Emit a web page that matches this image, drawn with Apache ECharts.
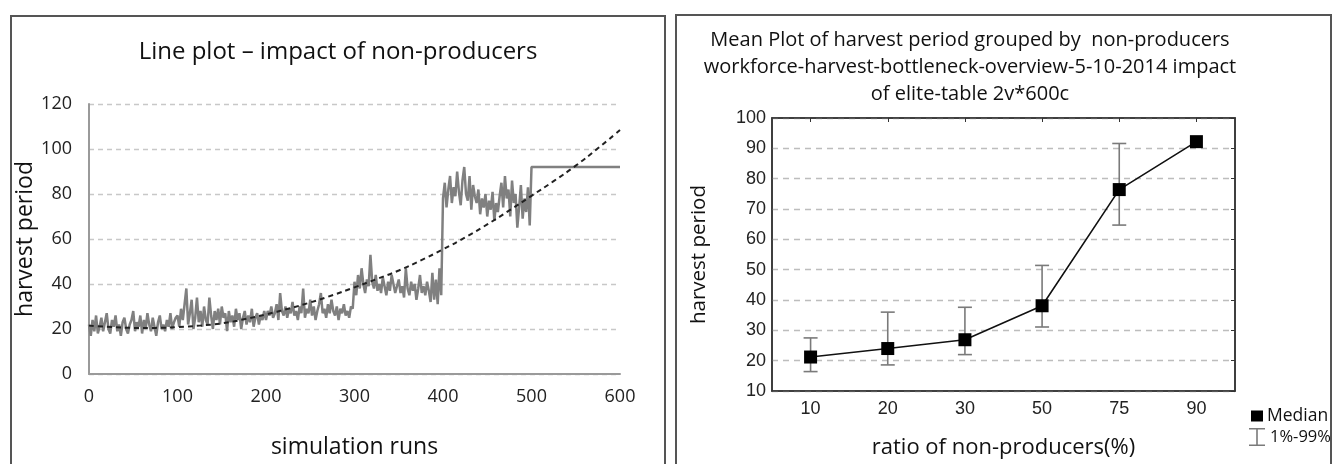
<!DOCTYPE html>
<html>
<head>
<meta charset="utf-8">
<title>harvest period – impact of non-producers</title>
<script src="https://cdn.jsdelivr.net/npm/echarts@6/dist/echarts.min.js"></script>
<style>
  html, body { margin: 0; padding: 0; background: #fff; }
  #chart { width: 1337px; height: 464px; }
</style>
</head>
<body>
<div id="chart"></div>
<script>
// ---- Line plot: harvest period per simulation run (one value every 2 runs, runs 0..498)
const runStep = 2;
const harvestPeriod = [
  22,17,24,19,26,18,21,25,19,23,27,20,18,24,21,26,19,22,17,23,25,20,18,22,24,
  28,19,23,21,26,18,24,20,27,22,19,25,21,17,23,26,20,22,19,24,21,27,20,23,25,
  26,21,29,24,31,38,22,27,33,20,25,34,23,28,21,30,24,22,34,26,20,28,24,29,22,
  30,25,27,19,28,23,26,21,29,24,27,20,25,28,22,26,23,29,21,25,27,22,26,24,28,
  24,28,26,30,25,27,31,24,36,28,26,30,25,29,27,32,26,28,24,30,27,38,25,29,27,
  33,26,30,24,28,31,36,27,29,25,31,27,33,28,26,30,24,29,27,31,26,28,25,30,29,
  41,35,44,38,47,40,36,42,39,53,41,38,44,37,40,36,43,39,35,41,37,44,40,36,39,
  42,36,39,34,47,38,35,41,37,40,33,38,44,36,39,35,41,37,32,45,33,42,31,47,35,
  78,85,74,82,88,76,83,79,90,81,75,86,92,80,77,88,73,84,79,76,82,71,78,74,80,
  70,77,73,81,68,76,72,79,85,74,88,78,82,70,86,76,80,65,74,84,69,78,72,83,66
];
// final constant stretch
const plateauRuns = [500, 600];
const plateauValues = [92, 92];

// polynomial trend line (dashed)
const trendRuns   = [0, 25, 50, 75, 100, 125, 150, 175, 200, 225, 250, 275, 300, 325, 350, 375, 400, 425, 450, 475, 500, 525, 550, 575, 600];
const trendValues = [21.5, 20.9, 20.5, 20.5, 20.8, 21.5, 22.5, 24.3, 26.5, 29, 31.8, 35, 38.5, 42.2, 46, 50.5, 55.4, 60.7, 66.5, 72.7, 79.2, 85.7, 92.6, 100.3, 108.4];

// ---- Mean plot: harvest period grouped by ratio of non-producers
const ratioCategories = ['10', '20', '30', '50', '75', '90'];
const medianValues = [21.2, 24, 26.9, 38.1, 76.4, 92.2];
const pct1Values   = [16.4, 18.6, 22, 31.1, 64.7, null];
const pct99Values  = [27.5, 36, 37.6, 51.4, 91.6, null];

const lineData = harvestPeriod.map((v, i) => [i * runStep, v])
  .concat(plateauRuns.map((r, i) => [r, plateauValues[i]]));
const trendData = trendRuns.map((r, i) => [r, trendValues[i]]);
const errData = ratioCategories.map((c, i) => [i, pct1Values[i], pct99Values[i]])
  .filter(d => d[1] != null);

const sansA = '"Open Sans", "DejaVu Sans", sans-serif';
const sansB = '"Liberation Sans", Arial, sans-serif';

const chart = echarts.init(document.getElementById('chart'), null, { renderer: 'canvas' });

chart.setOption({
  animation: false,
  backgroundColor: '#fff',
  graphic: [
    { type: 'rect', shape: { x: 11, y: 16, width: 654, height: 470 },
      style: { fill: 'none', stroke: '#555', lineWidth: 2 }, z: 0 },
    { type: 'rect', shape: { x: 676, y: 15, width: 655, height: 470 },
      style: { fill: 'none', stroke: '#555', lineWidth: 2 }, z: 0 }
  ],
  title: [
    { text: 'Line plot – impact of non-producers', left: 333, top: 35, textAlign: 'center',
      textStyle: { fontFamily: sansA, fontSize: 24, fontWeight: 'normal', color: '#111' } },
    { text: 'Mean Plot of harvest period grouped by  non-producers\nworkforce-harvest-bottleneck-overview-5-10-2014 impact\nof elite-table 2v*600c',
      left: 965, top: 22, textAlign: 'center',
      textStyle: { fontFamily: sansA, fontSize: 20, fontWeight: 'normal', color: '#111', lineHeight: 27 } }
  ],
  legend: [
    { left: 1246, top: 402, orient: 'vertical', selectedMode: false,
      itemWidth: 12, itemHeight: 11, itemGap: 4,
      data: [{ name: 'Median', icon: 'rect' }],
      textStyle: { fontFamily: sansA, fontSize: 17.5, color: '#111', padding: [0, 0, 0, -1] } },
    { left: 1244, top: 423, orient: 'vertical', selectedMode: false,
      itemWidth: 16, itemHeight: 18,
      data: [{ name: '1%-99%', icon: 'path://M0,0H16V1.6H8.8V16.4H16V18H0V16.4H7.2V1.6H0Z' }],
      textStyle: { fontFamily: sansA, fontSize: 16.5, color: '#111' } }
  ],
  grid: [
    { left: 89, top: 104, width: 531, height: 277, containLabel: false },
    { left: 772, top: 118, width: 463, height: 284, containLabel: false,
      show: true, borderColor: '#333', borderWidth: 1.5, backgroundColor: 'transparent' }
  ],
  xAxis: [
    { gridIndex: 0, type: 'value', min: 0, max: 600, interval: 100,
      name: 'simulation runs', nameLocation: 'middle', nameGap: 62,
      nameTextStyle: { fontFamily: sansA, fontSize: 23, color: '#111' },
      axisLine: { show: true, lineStyle: { color: '#9a9a9a', width: 2 } },
      axisTick: { show: false },
      axisLabel: { fontFamily: sansA, fontSize: 18, color: '#222', margin: 14 },
      splitLine: { show: false } },
    { gridIndex: 1, type: 'category', data: ratioCategories, boundaryGap: true,
      name: 'ratio of non-producers(%)', nameLocation: 'middle', nameGap: 46,
      nameTextStyle: { fontFamily: sansA, fontSize: 22, color: '#111' },
      axisLine: { show: true, lineStyle: { color: '#333', width: 1.5 } },
      axisTick: { show: false },
      axisLabel: { fontFamily: sansB, fontSize: 18, color: '#222', margin: 9 },
      splitLine: { show: false } },
    { gridIndex: 1, type: 'category', data: ratioCategories, position: 'top', boundaryGap: true,
      axisLine: { show: true, lineStyle: { color: '#333', width: 1.5 } },
      axisTick: { show: true, inside: true, length: 4, alignWithLabel: true, lineStyle: { color: '#333' } },
      axisLabel: { show: false }, splitLine: { show: false } }
  ],
  yAxis: [
    { gridIndex: 0, type: 'value', min: 0, max: 120, interval: 20,
      name: 'harvest period', nameLocation: 'middle', nameGap: 52,
      nameTextStyle: { fontFamily: sansA, fontSize: 23, color: '#111' },
      axisLine: { show: true, lineStyle: { color: '#9a9a9a', width: 2 } },
      axisTick: { show: false },
      axisLabel: { fontFamily: sansA, fontSize: 18, color: '#222', margin: 17 },
      splitLine: { show: true, lineStyle: { color: '#c8c8c8', type: [5, 4], width: 1.3 } } },
    { gridIndex: 1, type: 'value', min: 10, max: 100, interval: 10,
      name: 'harvest period', nameLocation: 'middle', nameGap: 62,
      nameTextStyle: { fontFamily: sansA, fontSize: 20.5, color: '#111' },
      axisLine: { show: true, lineStyle: { color: '#333', width: 1.5 } },
      axisTick: { show: false },
      axisLabel: { fontFamily: sansB, fontSize: 18, color: '#222', margin: 6 },
      splitLine: { show: true, lineStyle: { color: '#bdbdbd', type: [6, 5], width: 1.3 } } },
    { gridIndex: 1, type: 'value', min: 10, max: 100, interval: 10, position: 'right',
      axisLine: { show: true, lineStyle: { color: '#333', width: 1.5 } },
      axisTick: { show: true, inside: true, length: 4, lineStyle: { color: '#333' } },
      axisLabel: { show: false }, splitLine: { show: false } }
  ],
  series: [
    { name: 'harvest period', type: 'line', xAxisIndex: 0, yAxisIndex: 0,
      data: lineData, showSymbol: false, symbol: 'none',
      lineStyle: { color: '#808080', width: 2.5 }, z: 3 },
    { name: 'trend', type: 'line', xAxisIndex: 0, yAxisIndex: 0,
      data: trendData, smooth: true, showSymbol: false, symbol: 'none',
      lineStyle: { color: '#222', width: 2, type: [5, 4] }, z: 4 },
    { name: '1%-99%', type: 'custom', xAxisIndex: 1, yAxisIndex: 1,
      itemStyle: { color: '#7a7a7a' },
      data: errData,
      renderItem: function (params, api) {
        const lo = api.coord([api.value(0), api.value(1)]);
        const hi = api.coord([api.value(0), api.value(2)]);
        const hw = 7;
        const st = { stroke: '#7a7a7a', lineWidth: 1.6, fill: 'none' };
        return { type: 'group', children: [
          { type: 'line', shape: { x1: lo[0], y1: lo[1], x2: hi[0], y2: hi[1] }, style: st },
          { type: 'line', shape: { x1: lo[0] - hw, y1: lo[1], x2: lo[0] + hw, y2: lo[1] }, style: st },
          { type: 'line', shape: { x1: hi[0] - hw, y1: hi[1], x2: hi[0] + hw, y2: hi[1] }, style: st }
        ] };
      }, z: 3 },
    { name: 'Median', type: 'line', xAxisIndex: 1, yAxisIndex: 1,
      data: medianValues, symbol: 'rect', symbolSize: 13, showSymbol: true,
      itemStyle: { color: '#000' },
      lineStyle: { color: '#111', width: 1.6 }, z: 5 }
  ]
});
</script>
</body>
</html>
